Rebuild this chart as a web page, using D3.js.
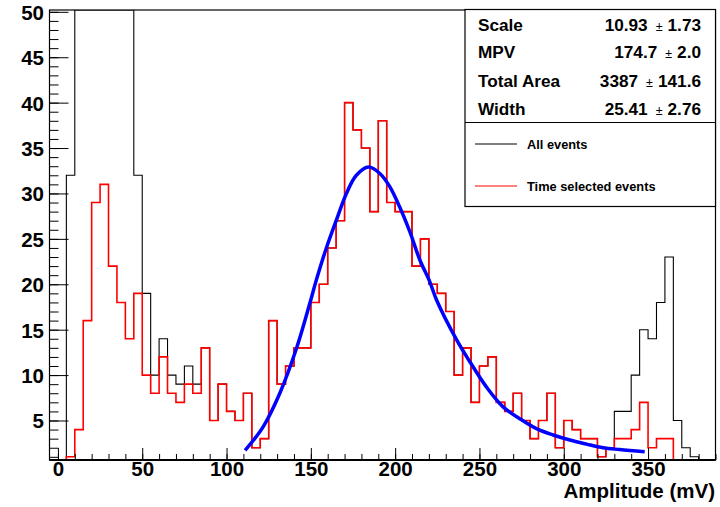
<!DOCTYPE html>
<html>
<head>
<meta charset="utf-8">
<script src="https://cdn.jsdelivr.net/npm/d3@7"></script>
<style>
  body { margin: 0; background: #fff; }
  text { font-family: "Liberation Sans", Arial, Helvetica, sans-serif; font-weight: bold; fill: #000; }
</style>
</head>
<body>
<div id="chart"></div>
<script>
    // bins are 5 mV wide, first bin starts at -5 mV
    var binStart = -5;
    var binWidth = 5;

    // "All events" (black); bins 10..45 mV run off the top of the frame
    var allEvents = [
      0, 0, 32, 60, 60, 60, 60, 60, 60, 60,
      32, 19, 10, 14, 10, 9, 11, 9, 13, 5,
      9, 6, 5, 8, 2, 3, 16, 9, 11, 13,
      13, 18, 20, 24, 27, 40, 37, 35, 28, 38,
      29, 28, 28, 22, 25, 20, 19, 17, 10, 13,
      7, 11, 12, 7, 6, 8, 5, 3, 5, 8,
      2, 5, 4, 3, 3, 1, 2, 6, 6, 10,
      15, 14, 18, 23, 5, 2, 1, 0, 0
    ];

    // "Time selected events" (red)
    var timeSelected = [
      0, 0, 1, 4, 16, 29, 31, 22, 18, 14,
      19, 10, 8, 12, 8, 7, 9, 8, 13, 5,
      9, 6, 5, 8, 2, 3, 16, 9, 11, 13,
      13, 18, 20, 24, 27, 40, 37, 35, 28, 38,
      29, 28, 28, 22, 25, 20, 19, 17, 10, 13,
      7, 11, 12, 7, 6, 8, 5, 3, 5, 8,
      2, 5, 4, 3, 3, 1, 2, 3, 3, 4,
      7, 2, 3, 3, 0, 0, 0, 0, 0
    ];

    // fitted curve
    var fitX = [111, 121.7, 131.6, 141.5, 149.4, 153.3, 159.2, 165.2, 171.1, 177,
                184.3, 190.9, 196.8, 202.7, 208.7, 214.6, 220.5, 224.5, 236.4, 244.2,
                254.1, 264, 273.9, 283.8, 293.7, 303.6, 313.5, 323.3, 333.2, 348];
    var fitY = [1.7, 4.3, 8.0, 12.95, 17.9, 20.5, 24.0, 27.1, 30.0, 32.0,
                32.9, 32.2, 30.75, 28.5, 25.8, 22.7, 20.3, 18.3, 13.9, 11.5,
                8.7, 6.5, 5.2, 4.1, 3.4, 2.85, 2.4, 2.0, 1.8, 1.56];

    var xTicks = [0, 50, 100, 150, 200, 250, 300, 350];
    var yTicks = [5, 10, 15, 20, 25, 30, 35, 40, 45, 50];

    var statNames = ["Scale", "MPV", "Total Area", "Width"];
    var statValues = ["10.93", "174.7", "3387", "25.41"];
    var statErrors = ["1.73", "2.0", "141.6", "2.76"];

    var legendLabels = ["All events", "Time selected events"];
    var legendColors = ["#000000", "#ff0000"];

    var svg = d3.select("#chart")
                .append("svg")
                .attr("width", 720)
                .attr("height", 507);

    var frame = { left: 49.5, right: 715.5, top: 10, bottom: 460 };

    var xScale = d3.scaleLinear()
                   .domain([-5, 390])
                   .range([frame.left, frame.right]);

    var yScale = d3.scaleLinear()
                   .domain([0.65, 50.2])
                   .range([frame.bottom, frame.top])
                   .clamp(true);

    svg.append("clipPath")
       .attr("id", "plotClip")
       .append("rect")
       .attr("x", frame.left)
       .attr("y", frame.top)
       .attr("width", frame.right - frame.left)
       .attr("height", frame.bottom - frame.top);

    function histPoints(values) {
      var pts = values.map((v, i) => [binStart + i * binWidth, v]);
      pts.push([binStart + values.length * binWidth, values[values.length - 1]]);
      return pts;
    }

    var stepLine = d3.line()
                     .x(d => xScale(d[0]))
                     .y(d => yScale(d[1]))
                     .curve(d3.curveStepAfter);

    var plot = svg.append("g").attr("clip-path", "url(#plotClip)");

    plot.append("path")
        .datum(histPoints(allEvents))
        .attr("fill", "none")
        .attr("stroke", "#000")
        .attr("stroke-width", 1.1)
        .attr("d", stepLine);

    plot.append("path")
        .datum(histPoints(timeSelected))
        .attr("fill", "none")
        .attr("stroke", "#ff0000")
        .attr("stroke-width", 1.6)
        .attr("d", stepLine);

    var fitLine = d3.line()
                    .x((d, i) => xScale(fitX[i]))
                    .y(d => yScale(d))
                    .curve(d3.curveCatmullRom);

    plot.append("path")
        .datum(fitY)
        .attr("fill", "none")
        .attr("stroke", "#0000ff")
        .attr("stroke-width", 3.5)
        .attr("d", fitLine);

    // axes: ROOT style, ticks pointing into the frame
    var xMinor = d3.range(0, 391, 10);
    svg.append("g")
       .attr("transform", `translate(0, ${frame.bottom})`)
       .call(d3.axisBottom(xScale).tickValues(xMinor).tickSize(-6).tickFormat(""))
       .call(g => g.select(".domain").remove());

    svg.append("g")
       .attr("transform", `translate(0, ${frame.bottom})`)
       .call(d3.axisBottom(xScale).tickValues(xTicks).tickSize(-12).tickFormat(d3.format("d")))
       .call(g => g.select(".domain").remove())
       .call(g => g.selectAll("text").attr("font-size", 20.5).attr("dy", 0).attr("y", 15.5));

    var yMinor = d3.range(1, 51, 1);
    svg.append("g")
       .attr("transform", `translate(${frame.left}, 0)`)
       .call(d3.axisLeft(yScale).tickValues(yMinor).tickSize(-9).tickFormat(""))
       .call(g => g.select(".domain").remove());

    svg.append("g")
       .attr("transform", `translate(${frame.left}, 0)`)
       .call(d3.axisLeft(yScale).tickValues(yTicks).tickSize(-19).tickPadding(5.5).tickFormat(d3.format("d")))
       .call(g => g.select(".domain").remove())
       .call(g => g.selectAll("text").attr("font-size", 20.5).attr("dy", "0.36em"));

    svg.selectAll(".tick line").attr("stroke", "#000");
    svg.selectAll(".tick text").attr("fill", "#000").style("font-family", "'Liberation Sans', Arial, sans-serif").style("font-weight", "bold");

    // frame
    svg.append("rect")
       .attr("x", frame.left)
       .attr("y", frame.top)
       .attr("width", frame.right - frame.left)
       .attr("height", frame.bottom - frame.top)
       .attr("fill", "none")
       .attr("stroke", "#000")
       .attr("stroke-width", 1.2);

    svg.append("line")
       .attr("x1", frame.left)
       .attr("x2", frame.right)
       .attr("y1", frame.bottom)
       .attr("y2", frame.bottom)
       .attr("stroke", "#000")
       .attr("stroke-width", 2);

    svg.append("text")
       .attr("x", 715)
       .attr("y", 498)
       .attr("text-anchor", "end")
       .attr("font-size", 20.5)
       .text("Amplitude (mV)");

    // stats box + legend
    var box = { x: 465, y: 9.5, w: 250.5, h: 197, split: 122.5 };

    svg.append("rect")
       .attr("x", box.x)
       .attr("y", box.y)
       .attr("width", box.w)
       .attr("height", box.h)
       .attr("fill", "#fff")
       .attr("stroke", "#000")
       .attr("stroke-width", 1.2);

    svg.append("line")
       .attr("x1", box.x)
       .attr("x2", box.x + box.w)
       .attr("y1", box.split)
       .attr("y2", box.split)
       .attr("stroke", "#000")
       .attr("stroke-width", 1.2);

    var statY = [31, 58, 86.5, 114.5];

    statNames.forEach((name, i) => {
      svg.append("text")
         .attr("x", 478)
         .attr("y", statY[i])
         .attr("font-size", 17.2)
         .text(name);

      var t = svg.append("text")
                 .attr("x", 701)
                 .attr("y", statY[i])
                 .attr("text-anchor", "end")
                 .attr("font-size", 17.2);
      t.append("tspan").text(statValues[i]);
      t.append("tspan").attr("dx", 8).attr("font-size", 12.5).attr("font-weight", "normal").text("\u00b1");
      t.append("tspan").attr("dx", 5).text(statErrors[i]);
    });

    var legendY = [144, 186];

    legendLabels.forEach((label, i) => {
      svg.append("line")
         .attr("x1", 475)
         .attr("x2", 517)
         .attr("y1", legendY[i])
         .attr("y2", legendY[i])
         .attr("stroke", legendColors[i])
         .attr("stroke-width", 1.2);

      svg.append("text")
         .attr("x", 527)
         .attr("y", legendY[i] + 4.5)
         .attr("font-size", 12.8)
         .text(label);
    });
</script>
</body>
</html>
